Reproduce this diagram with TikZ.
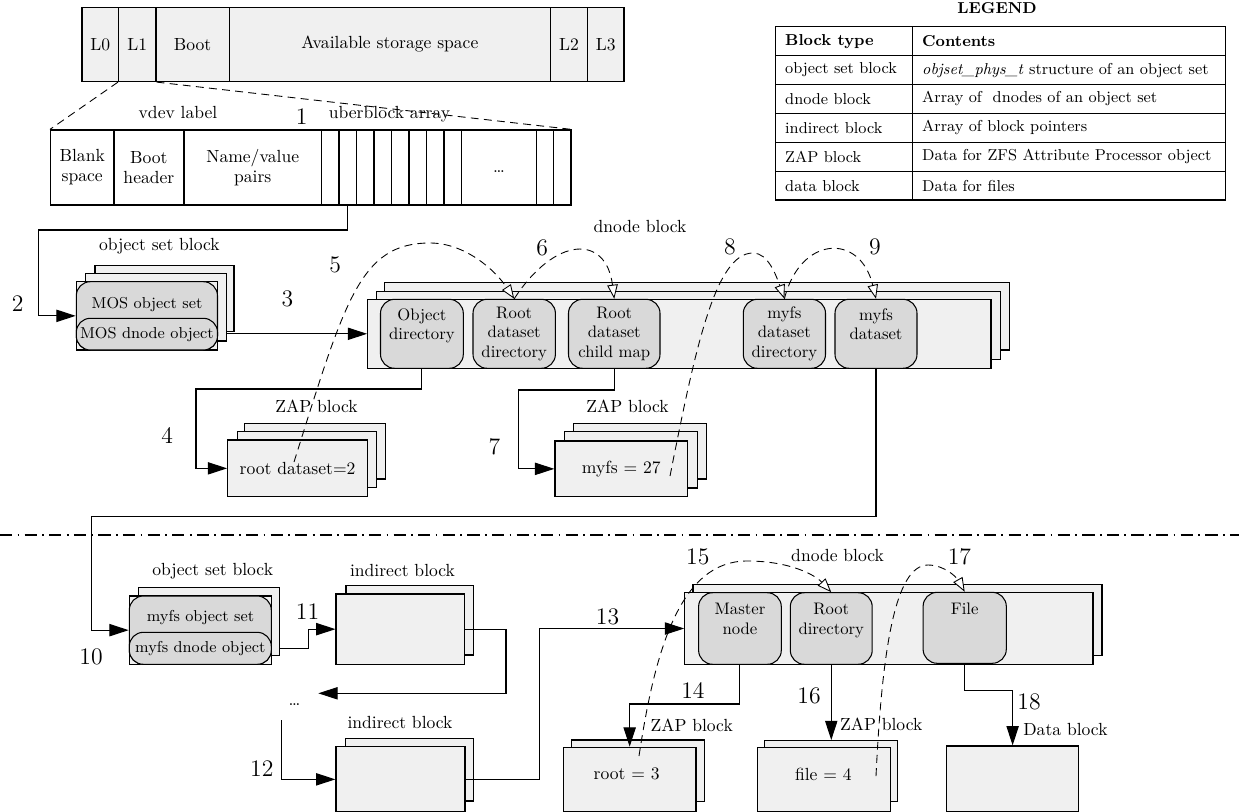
\documentclass[tikz,border=0pt]{standalone}
\usepackage{tikz}
\usetikzlibrary{arrows.meta,fit}
\definecolor{blkfill}{HTML}{F0F0F0}
\definecolor{objfill}{HTML}{D9D9D9}
\tikzset{
  blk/.style={draw,fill=blkfill,line width=0.7pt,inner sep=0pt},
  vcell/.style={draw,fill=white,line width=0.7pt,inner sep=0pt},
  obj/.style={draw,fill=objfill,line width=0.6pt,rounded corners=8pt,inner sep=0pt},
  tx/.style={label={[align=center,font=\fontsize{10}{11.5}\selectfont]center:#1}},
  otx/.style={label={[align=center,font=\fontsize{9.5}{11}\selectfont]center:#1}},
  stx/.style={label={[font=\small]center:#1}},
  num/.style={font=\fontsize{13.5}{15}\selectfont},
  legtxt/.style={anchor=west,font=\fontsize{9}{10.5}\selectfont},
  arr/.style={line width=0.6pt,-{Triangle[length=11pt,width=7pt]}},
  dsh/.style={line width=0.5pt,dash pattern=on 4.5pt off 3pt},
  hop/.style={dsh,-{Triangle[open,length=8pt,width=6pt,fill=white]}}
}

\begin{document}
\begin{tikzpicture}[x=0.02cm,y=-0.02cm,font=\fontsize{10}{11.5}\selectfont]
  \useasboundingbox (0,0) rectangle (1239,811); \clip (0,0) rectangle (1239,811);
  % disk
  \node[blk,tx=L0,fit={(82,7.5)(118.6,81.5)}] (l0) {}; \node[blk,tx=L1,fit={(118.6,7.5)(156,81.5)}] (l1) {};
  \node[blk,tx=Boot,fit={(156,7.5)(229.3,81.5)}] (boot) {}; \node[blk,tx={Available storage space},fit={(229.3,7.5)(550.5,81.5)}] (avail) {};
  \node[blk,tx=L2,fit={(550.5,7.5)(587.3,81.5)}] (l2) {}; \node[blk,tx=L3,fit={(587.3,7.5)(624,81.5)}] (l3) {};
  % vdev label
  \node[vcell,tx={Blank\\space},fit={(50.6,130)(113.9,205)}] (blank) {}; \node[vcell,tx={Boot\\header},fit={(113.9,130)(183.9,205)}] (bhdr) {};
  \node[vcell,tx={Name/value\\pairs},fit={(183.9,130)(321.5,205)}] (nvp) {};
  \foreach \i in {0,...,7} \node[vcell,fit={(321.5+17.5*\i,130)(339+17.5*\i,205)}] (ub\i) {};
  \node[vcell,fit={(461.5,130)(536.6,205)}] (ubdots) {}; \node (ubdotstxt) at (499,172) {\dots};
  \node[vcell,fit={(536.6,130)(553.8,205)}] (ub8) {}; \node[vcell,fit={(553.8,130)(571,205)}] (ub9) {};
  \draw[dsh] (l1.south west) -- (blank.north west); \draw[dsh] (l1.south east) -- (ub9.north east);
  \node (vdevlab) at (178,112) {vdev label}; \node[num] (n1) at (301.7,117) {1}; \node (ublab) at (389.5,114) {uberblock array};

  % MOS object set
  \node[blk,fit={(94.9,265.7)(234,331.7)}] (mosc) {}; \node[blk,fit={(85.8,273.3)(226.2,341)}] (mosb) {};
  \node[blk,fit={(76.3,281.7)(217.5,350)}] (mos) {}; \node[obj,fit={(76.3,281.7)(217.5,350)}] (mosset) {};
  \node[font=\small] (mostxt) at (147,305) {MOS object set};
  \node[obj,stx={MOS dnode object},fit={(76.3,318.3)(217.5,350)}] (mosdn) {};
  \node (oslab1) at (159.4,246.7) {object set block}; \node[num] (n2) at (17.8,304) {2};
  \node[num] (n3) at (287.5,299) {3}; \node[num] (n5) at (335.3,265) {5};
  \draw[arr] (ub1.south) |- (38.4,230) |- (mos.west);

  % dnode block of the MOS
  \node[blk,fit={(384.3,282.7)(1009.5,350)}] (dn1c) {}; \node[blk,fit={(376.5,291.3)(1000.6,359.3)}] (dn1b) {};
  \node[blk,fit={(367.7,299.3)(991,368.3)}] (dn1) {};
  \node[obj,otx={Object\\directory\\~},fit={(380.5,299.3)(463.3,368.3)}] (objdir) {};
  \node[obj,otx={Root\\dataset\\directory},fit={(473,299.3)(555.4,368.3)}] (rootdsdir) {};
  \node[obj,otx={Root\\dataset\\child map},fit={(568.5,299.3)(660,368.3)}] (childmap) {};
  \node[obj,otx={myfs\\dataset\\directory},fit={(743.3,299.3)(825.5,368.3)}] (myfsdir) {};
  \node[obj,otx={myfs\\dataset\\~},fit={(835,299.3)(917,368.3)}] (myfsds) {};
  \node (dnlab1) at (640,226.7) {dnode block}; \node[num] (n6) at (542.3,248.3) {6};
  \node[num] (n8) at (730,247) {8}; \node[num] (n9) at (875,247) {9};
  \draw[arr] (mosb.east |- dn1.west) -- (dn1.west);

  % ZAP blocks
  \node[blk,fit={(244.5,423.3)(385.4,479)}] (zap1c) {}; \node[blk,fit={(237.3,431.7)(376.6,487.7)}] (zap1b) {};
  \node[blk,tx={root dataset=2},fit={(227.7,440)(367.4,496.7)}] (zap1) {};
  \node (zaplab1) at (316.5,406) {ZAP block}; \node[num] (n4) at (167.2,435) {4};
  \draw[arr] (objdir.south) |- (196,389) |- (zap1.west);
  \node[blk,fit={(573.6,423.3)(706.8,479)}] (zap2c) {}; \node[blk,fit={(564.5,431.7)(697.3,488)}] (zap2b) {};
  \node[blk,tx={myfs = 27},fit={(554.9,441)(687.7,496.7)}] (zap2) {};
  \node (zaplab2) at (627.6,406) {ZAP block}; \node[num] (n7) at (494.4,446.7) {7};
  \draw[arr] (childmap.south) |- (518.5,390) |- (zap2.west);

  \draw[line width=0.6pt,dash pattern=on 7pt off 3pt on 1pt off 3pt] (0,535) -- (1239,535);

  % myfs object set
  \node[blk,fit={(138.4,587.7)(279.6,655.7)}] (myfsosb) {}; \node[blk,fit={(129.3,596)(271.3,664.3)}] (myfsos) {};
  \node[obj,fit={(129.3,596)(271.3,664.3)}] (myfsset) {};
  \node[font=\small] (myfstxt) at (200.5,618) {myfs object set};
  \node[obj,stx={myfs dnode object},fit={(129.3,632.3)(271.3,664.3)}] (myfsdn) {};
  \node (oslab2) at (212.7,570.7) {object set block}; \node[num] (n10) at (91,656.7) {10};
  \draw[arr] (myfsds.south) |- (91.7,516.7) |- (myfsos.west);

  % indirect blocks
  \node[blk,fit={(346,585.7)(473.3,655)}] (ind1b) {}; \node[blk,fit={(336.1,594)(464.6,664.3)}] (ind1) {};
  \node (indlab1) at (402.5,570.7) {indirect block}; \node[num] (n11) at (307.6,611.7) {11};
  \draw[arr] (myfsdn.east -| myfsosb.east) -- (308.4,648.3) |- (ind1.west);
  \node (dots) at (294.6,705) {\dots};
  \coordinate (dotsin) at (318.3,693.3); \coordinate (dotsout) at (281.5,720);
  \draw[arr] (ind1.east) -| (506,693.3) -- (dotsin);
  \node[blk,fit={(345.7,738.3)(473.3,801)}] (ind2b) {}; \node[blk,fit={(336,746.7)(465,812)}] (ind2) {};
  \node (indlab2) at (400,722.3) {indirect block}; \node[num] (n12) at (261.8,768.3) {12};
  \draw[arr] (dotsout) |- (ind2.west);

  % dnode block of myfs
  \node[blk,fit={(692.9,584.3)(1102,655.7)}] (dn2b) {}; \node[blk,fit={(684.8,592.7)(1093,664.3)}] (dn2) {};
  \node[obj,otx={Master\\node\\~},fit={(698.6,592.7)(781.3,664.3)}] (master) {};
  \node[obj,otx={Root\\directory\\~},fit={(790.3,592.7)(872.2,664.3)}] (rootdir) {};
  \node[obj,otx={File\\~\\~},fit={(923.1,592.3)(1006.3,663.3)}] (file) {};
  \node (dnlab2) at (837.6,555.7) {dnode block}; \node[num] (n15) at (697.8,556.7) {15};
  \node[num] (n17) at (959.4,556.7) {17}; \node[num] (n13) at (607.5,616.5) {13};
  \draw[arr] (ind2.east) -| (539.5,700) |- (dn2.west);

  % leaves
  \node[blk,fit={(571.7,740)(704.3,801.7)}] (zap3b) {}; \node[blk,fit={(563.3,747.3)(696,812)}] (zap3) {};
  \node (zap3txt) at (626.7,774.3) {root = 3};
  \node (zaplab3) at (691.7,725) {ZAP block}; \node[num] (n14) at (692.9,690) {14};
  \draw[arr] (master.south) |- (629.65,704) -- (zap3.north);
  \node[blk,fit={(764.3,740.7)(897.5,801.7)}] (zap4b) {}; \node[blk,fit={(757.5,747.3)(890.5,812)}] (zap4) {};
  \node (zap4txt) at (823.3,774.3) {file = 4};
  \node (zaplab4) at (881.2,724.3) {ZAP block}; \node[num] (n16) at (809,695.7) {16};
  \draw[arr] (rootdir.south) -- (rootdir.south |- zap4b.north);
  \node[blk,fit={(946.4,746)(1078.8,812)}] (data) {};
  \node (datalab) at (1065.4,729.3) {Data block}; \node[num] (n18) at (1029,702.3) {18};
  \draw[arr] (file.south) |- (1012.6,690.7) -- (data.north);

  % lookups
  \coordinate (z1tail) at (294,462); \coordinate (z2tail) at (670,476);
  \coordinate (z3tail) at (639,756); \coordinate (z4tail) at (876,776);
  \draw[hop] (z1tail) .. controls (345,300) and (360,243) .. (430,243) .. controls (465,243) and (495,270) .. (rootdsdir.north);
  \draw[hop] (rootdsdir.north) .. controls (555,236) and (606,234) .. (childmap.north);
  \draw[hop] (z2tail) .. controls (695,350) and (715,253) .. (753,253) .. controls (768,253) and (776,275) .. (myfsdir.north);
  \draw[hop] (myfsdir.north) .. controls (800,236) and (860,232) .. (myfsds.north);
  \draw[hop] (z3tail) .. controls (655,650) and (680,561) .. (747,561) .. controls (790,561) and (815,575) .. (rootdir.north);
  \draw[hop] (z4tail) .. controls (882,650) and (895,565) .. (928,565) .. controls (945,565) and (957,578) .. (file.north);

  % legend
  \node[font=\fontsize{9}{10}\selectfont\bfseries] (legend) at (997,8) {LEGEND};
  \draw[line width=0.6pt] (775.7,26.7) rectangle (1225.7,200); \draw[line width=0.5pt] (912.7,26.7) -- (912.7,200);
  \foreach \r in {1,...,5} \draw[line width=0.5pt] (775.7,26.7+28.9*\r) -- (1225.7,26.7+28.9*\r);
  \draw[line width=1.3pt] (775.7,200) -- (1225.7,200);
  \foreach \r/\a/\b in {0/{\bfseries Block type}/{\bfseries Contents},
      1/{object set block}/{\textit{objset\_phys\_t} structure of an object set},
      2/{dnode block}/{Array of~ dnodes of an object set}, 3/{indirect block}/{Array of block pointers},
      4/{ZAP block}/{Data for ZFS Attribute Processor object}, 5/{data block}/{Data for files}}
    {\node[legtxt] (bt\r) at (779,41.15+28.9*\r) {\a}; \node[legtxt] (ct\r) at (916,41.15+28.9*\r) {\b};}
\end{tikzpicture}
\end{document}
